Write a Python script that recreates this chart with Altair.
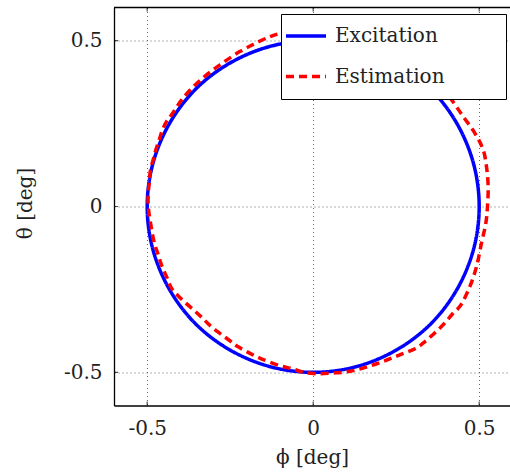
import altair as alt
import pandas as pd

# Commanded attitude trajectory (circle of radius 0.5 deg)
exc_phi = [0.5, 0.483, 0.433, 0.354, 0.25, 0.129, 0.0, -0.129, -0.25, -0.354, -0.433, -0.483,
           -0.5, -0.483, -0.433, -0.354, -0.25, -0.129, 0.0, 0.129, 0.25, 0.354, 0.433, 0.483]
exc_theta = [0.0, 0.129, 0.25, 0.354, 0.433, 0.483, 0.5, 0.483, 0.433, 0.354, 0.25, 0.129,
             0.0, -0.129, -0.25, -0.354, -0.433, -0.483, -0.5, -0.483, -0.433, -0.354, -0.25, -0.129]

# Estimated trajectory
est_phi = [0.20, 0.10, 0.00, -0.05, -0.10, -0.130, -0.170, -0.221, -0.281, -0.341,
           -0.392, -0.427, -0.442, -0.454, -0.464, -0.474, -0.482, -0.490, -0.494, -0.497,
           -0.497, -0.494, -0.489, -0.484, -0.477, -0.467, -0.457, -0.442, -0.427, -0.410,
           -0.386, -0.361, -0.336, -0.316, -0.286, -0.256, -0.231, -0.201, -0.161, -0.100,
           -0.060, -0.030, 0.010, 0.060, 0.111, 0.161, 0.211, 0.261, 0.311, 0.331,
           0.361, 0.392, 0.422, 0.442, 0.472, 0.492, 0.507, 0.520, 0.525, 0.527,
           0.522, 0.512, 0.487, 0.452, 0.417, 0.37, 0.30, 0.20]
est_theta = [0.50, 0.53, 0.535, 0.53, 0.522, 0.512, 0.494, 0.467, 0.427, 0.380,
             0.327, 0.276, 0.256, 0.231, 0.201, 0.171, 0.141, 0.111, 0.070, 0.040,
             0.005, -0.025, -0.055, -0.085, -0.115, -0.145, -0.176, -0.211, -0.246, -0.266,
             -0.289, -0.311, -0.334, -0.354, -0.379, -0.401, -0.420, -0.437, -0.457, -0.480,
             -0.490, -0.500, -0.504, -0.502, -0.497, -0.484, -0.467, -0.447, -0.427, -0.412,
             -0.386, -0.356, -0.321, -0.301, -0.241, -0.181, -0.110, -0.050, 0.000, 0.060,
             0.120, 0.171, 0.221, 0.271, 0.321, 0.38, 0.44, 0.50]

series_names = ["Excitation", "Estimation"]
series_colors = ["#0000ff", "#ff0000"]
tick_values = [-0.5, 0.0, 0.5]
x_limits = [-0.6, 0.5928]
y_limits = [-0.6, 0.6]

rows = [{"phi": p, "theta": t, "series": "Excitation", "k": i}
        for i, (p, t) in enumerate(zip(exc_phi, exc_theta))]
rows += [{"phi": p, "theta": t, "series": "Estimation", "k": i}
         for i, (p, t) in enumerate(zip(est_phi, est_theta))]
df = pd.DataFrame(rows)

x_ticks_df = pd.DataFrame([{"v": v, "edge": e} for v in tick_values for e in y_limits])
y_ticks_df = pd.DataFrame([{"v": v, "edge": x_limits[0]} for v in tick_values])
top_df = pd.DataFrame({"edge": [y_limits[1]]})

SERIF = "DejaVu Serif"
TXT = "#222222"

x_scale = alt.Scale(domain=x_limits, nice=False, zero=False)
y_scale = alt.Scale(domain=y_limits, nice=False, zero=False)

# transparent multi-line legend title: it only sizes the white framed box
legend = alt.Legend(title=["M", "M", "M"], titleOrient="right", titleOpacity=0,
                    titleFont=SERIF, titleFontSize=20, titleLineHeight=32.5,
                    titleBaseline="top", titleAnchor="start", titlePadding=38.5,
                    orient="none", legendX=167, legendY=6.5)

color = alt.Color("series:N", scale=alt.Scale(domain=series_names, range=series_colors),
                  legend=legend)
dash = alt.StrokeDash("series:N", scale=alt.Scale(domain=series_names, range=[[1, 0], [8, 5]]),
                      legend=legend)

x_axis = alt.Axis(values=tick_values, grid=True, gridDash=[1, 3], gridColor="#666666",
                  ticks=False, tickSize=0, domainColor="black", domainWidth=1.3,
                  labelFont=SERIF, labelFontSize=20, labelColor=TXT, labelPadding=29,
                  labelBaseline="alphabetic", labelExpr="toString(datum.value)",
                  title="ϕ [deg]", titleFont=SERIF, titleFontSize=20, titleColor=TXT,
                  titleFontWeight="normal", titleX=198, titleY=58, titleBaseline="alphabetic")
y_axis = alt.Axis(values=tick_values, grid=True, gridDash=[1, 3], gridColor="#666666",
                  ticks=False, tickSize=0, domainColor="black", domainWidth=1.3,
                  labelFont=SERIF, labelFontSize=20, labelColor=TXT, labelPadding=12,
                  labelExpr="toString(datum.value)",
                  title="θ [deg]", titleFont=SERIF, titleFontSize=20, titleColor=TXT,
                  titleFontWeight="normal", titleX=-83, titleY=195.5, titleBaseline="alphabetic")

base = alt.Chart(df).encode(
    x=alt.X("phi:Q", scale=x_scale, axis=x_axis),
    y=alt.Y("theta:Q", scale=y_scale, axis=y_axis),
    order="k:Q",
    color=color,
    strokeDash=dash,
)

excitation = base.transform_filter(alt.datum.series == "Excitation").mark_line(
    interpolate="cardinal-closed", strokeWidth=3.5)
estimation = base.transform_filter(alt.datum.series == "Estimation").mark_line(
    interpolate="catmull-rom", strokeWidth=3.5, strokeCap="butt")

top_edge = alt.Chart(top_df).mark_rule(color="black", strokeWidth=1.3).encode(
    y=alt.Y("edge:Q", scale=y_scale))

x_ticks = alt.Chart(x_ticks_df).mark_tick(orient="vertical", size=8, thickness=1.2,
                                          color="black", clip=True).encode(
    x=alt.X("v:Q", scale=x_scale), y=alt.Y("edge:Q", scale=y_scale))
y_ticks = alt.Chart(y_ticks_df).mark_tick(orient="horizontal", size=8, thickness=1.2,
                                          color="black", clip=True).encode(
    y=alt.Y("v:Q", scale=y_scale), x=alt.X("edge:Q", scale=x_scale))

chart = alt.layer(excitation, estimation, top_edge, x_ticks, y_ticks).properties(
    width=396, height=398,
    autosize=alt.AutoSizeParams(type="none"),
    padding={"left": 114, "top": 7.5, "right": 0, "bottom": 68.5},
    background="white",
).configure_view(stroke=None).configure_legend(
    fillColor="white", strokeColor="black", padding=0, symbolType="stroke",
    symbolSize=1600, symbolStrokeWidth=3.5, symbolOffset=3, labelFont=SERIF,
    labelFontSize=20, labelColor=TXT, labelOffset=7, rowPadding=8.5, labelLimit=0,
    cornerRadius=0,
)

chart.save("out.html", embed_options={"renderer": "svg", "actions": False})
